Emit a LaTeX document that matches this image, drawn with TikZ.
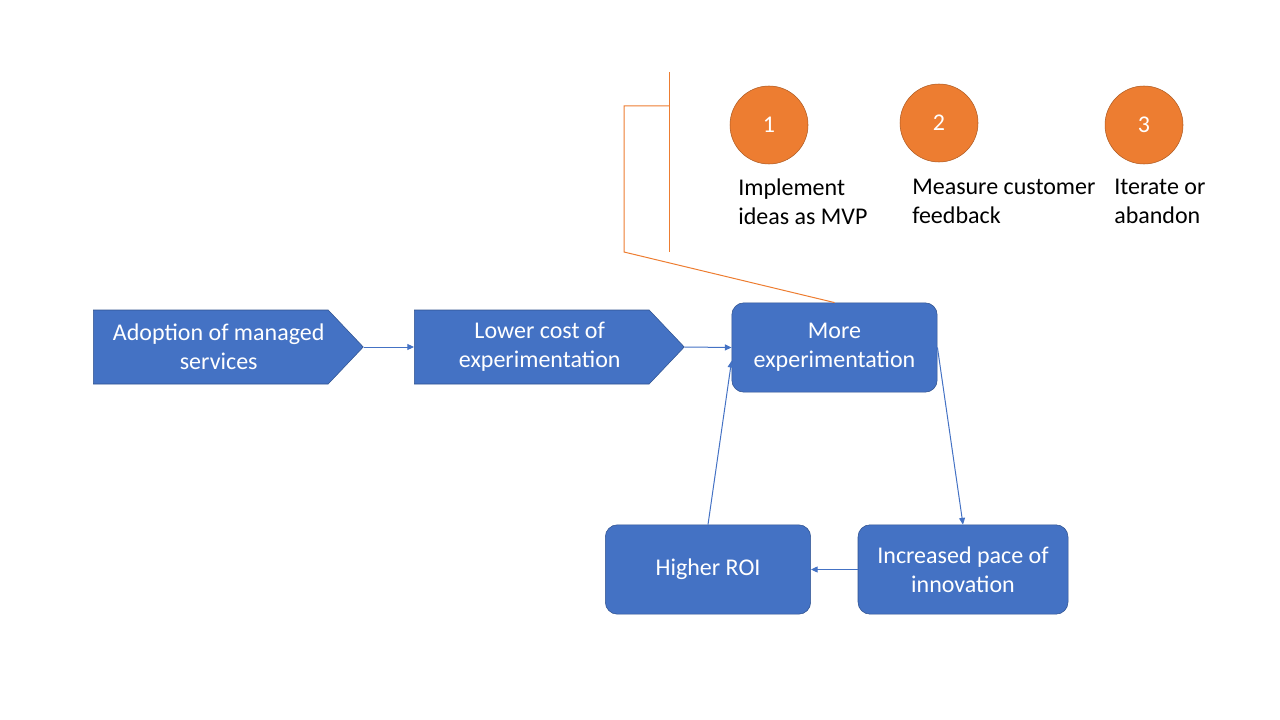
\documentclass[tikz,border=0pt]{standalone}
\usepackage{fontspec}
\setmainfont{Carlito}
\usepackage{tikz}
\usetikzlibrary{positioning,shapes.symbols,arrows.meta}
\definecolor{boxblue}{HTML}{4472C4}
\definecolor{boxline}{HTML}{2F528F}
\definecolor{stepor}{HTML}{ED7D31}
\definecolor{steporline}{HTML}{AE5A21}
\newcommand{\pushr}{\hspace*{12pt}}

\begin{document}
\begin{tikzpicture}[x=0.75pt, y=-0.75pt,
chevron/.style={signal, signal to=east, signal pointer angle=93, draw=boxline, fill=boxblue, text=white, align=center, minimum width=202.5pt, minimum height=55.5pt, inner sep=0pt, font=\fontsize{18}{21.75}\selectfont},
stagebox/.style={rectangle, rounded corners=9pt, draw=boxline, fill=boxblue, text=white, align=center, minimum width=154pt, minimum height=67pt, font=\fontsize{18}{21.75}\selectfont},
stepdot/.style={circle, draw=steporline, fill=stepor, text=white, minimum size=58.5pt, inner sep=0pt, font=\fontsize{18}{21.75}\selectfont},
steptext/.style={anchor=north west, align=left, inner sep=0pt, font=\fontsize{18}{21.75}\selectfont},
flow/.style={draw=boxblue, line width=0.75pt, -{Triangle[length=5pt,width=4.5pt]}},
brace/.style={draw=stepor, line width=0.75pt},
]
\useasboundingbox (0,0) rectangle (1280,720);

\node[chevron, anchor=west] (managed) at (93,347) {\pushr Adoption of managed\\\pushr services};
\node[chevron, anchor=west] (lowcost) at (414,347) {\pushr Lower cost of\\\pushr experimentation};
\node[stagebox] (more) at (834.5,347.5) {More\\experimentation};
\node[stagebox] (roi) at (708,569.5) {Higher ROI};
\node[stagebox, minimum width=157.5pt] (pace) at (963,569.5) {Increased pace of\\innovation};

%Steps
\node[stepdot] (s1) at (769,125) {1};
\node[stepdot] (s2) at (939,123) {2};
\node[stepdot] (s3) at (1144,125) {3};
\node[steptext] (t1) at (738,179) {Implement\\ideas as MVP};
\node[steptext] (t2) at (912,179) {Measure customer\\feedback};
\node[steptext] (t3) at (1114,179) {Iterate or\\abandon};

%Bracket
\coordinate (br_top) at (669,72);
\coordinate (br_bot) at (669,252);
\coordinate (br_mid) at (669,106);
\coordinate (br_a) at (624,106);
\coordinate (br_b) at (624,252);
\draw[brace] (br_top) -- (br_bot);
\draw[brace] (br_mid) -- (br_a) -- (br_b) -- (more.north);

%Flow arrows
\draw[flow] (managed.east) -- (lowcost.west);
\draw[flow] (lowcost.east) -- (more.west);
\draw[flow] (more.east) -- (pace.north);
\draw[flow] (pace.west) -- (roi.east);
\draw[flow] (roi.north) -- ([yshift=-10pt]more.west);
\end{tikzpicture}
\end{document}
